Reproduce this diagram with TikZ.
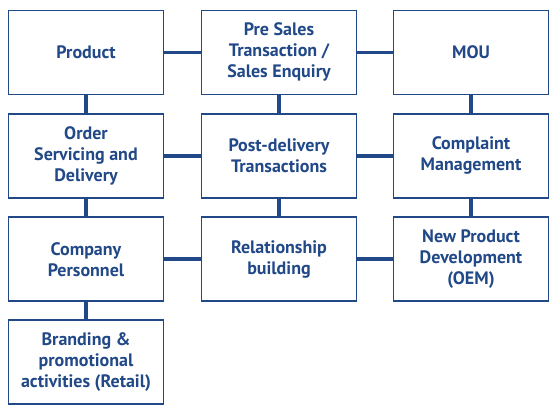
\documentclass[tikz,border=0pt]{standalone}
\usepackage{fontspec}
\setmainfont{PT Sans}
\definecolor{navy}{RGB}{33,72,135}
\begin{document}
\begin{tikzpicture}[x=1pt,y=-1pt,
  box/.style={draw=navy,line width=1.5pt,minimum width=155pt,minimum height=84pt,inner sep=0pt,
    align=center,text=navy,font=\bfseries\fontsize{18}{21}\selectfont},
  link/.style={draw=navy,line width=3.5pt}]
\useasboundingbox (0,0) rectangle (559,413);
\node[box] (prod) at (86,52.3) {Product};
\node[box] (pre) at (279,52.3) {Pre Sales\\Transaction /\\Sales Enquiry};
\node[box] (mou) at (471,52.3) {MOU};
\node[box] (order) at (86,155.8) {Order\\Servicing and\\Delivery};
\node[box] (post) at (279,155.8) {Post-delivery\\Transactions};
\node[box] (compl) at (471,155.8) {Complaint\\Management};
\node[box] (comp) at (86,259.2) {Company\\Personnel};
\node[box] (rel) at (279,259.2) {Relationship\\building};
\node[box] (npd) at (471,259.2) {New Product\\Development\\(OEM)};
\node[box] (brand) at (86,362.2) {Branding \&\\promotional\\activities (Retail)};
\draw[link] (prod) -- (pre);
\draw[link] (pre) -- (mou);
\draw[link] (order) -- (post);
\draw[link] (post) -- (compl);
\draw[link] (comp) -- (rel);
\draw[link] (rel) -- (npd);
\draw[link] (prod) -- (order);
\draw[link] (order) -- (comp);
\draw[link] (comp) -- (brand);
\draw[link] (pre) -- (post);
\draw[link] (post) -- (rel);
\draw[link] (mou) -- (compl);
\draw[link] (compl) -- (npd);
\end{tikzpicture}
\end{document}
